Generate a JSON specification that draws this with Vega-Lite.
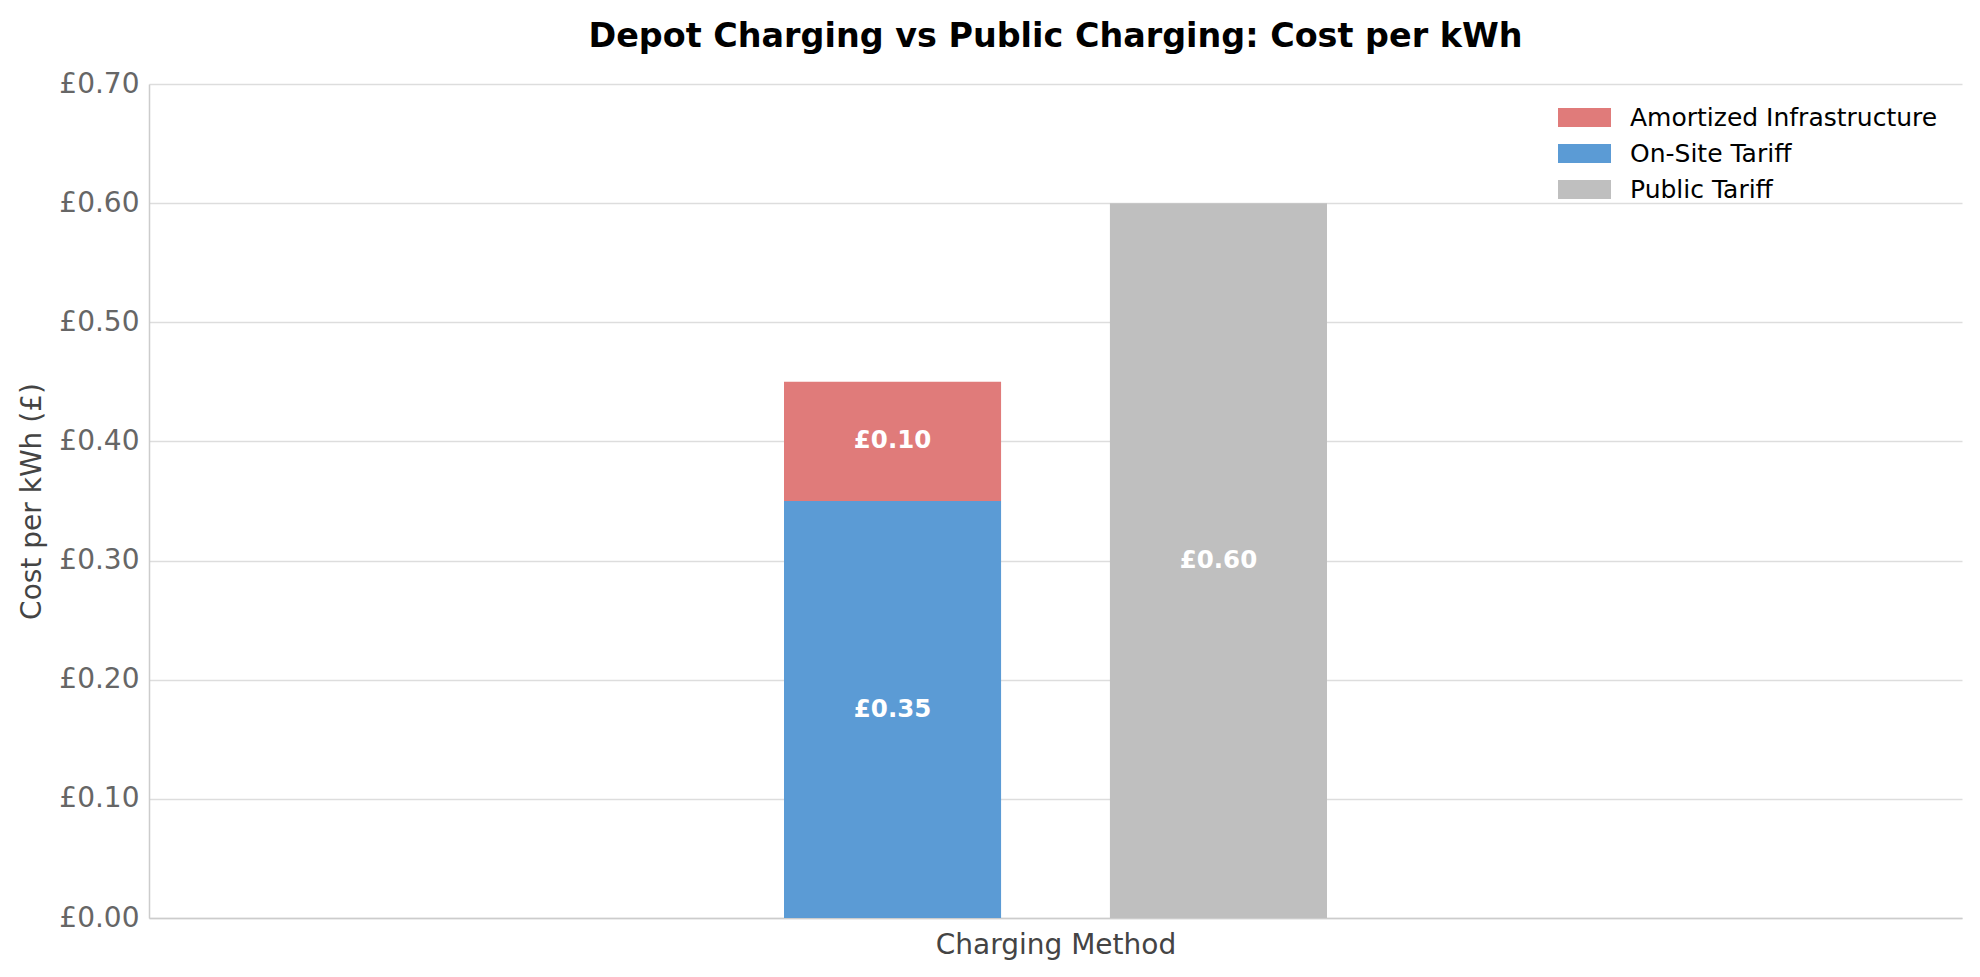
{
  "$schema": "https://vega.github.io/schema/vega-lite/v6.json",
  "width": 1813,
  "height": 834,
  "autosize": {"type": "none"},
  "padding": {"left": 149, "top": 84, "right": 18, "bottom": 59},
  "background": "white",
  "title": {
    "text": "Depot Charging vs Public Charging: Cost per kWh",
    "font": "DejaVu Sans",
    "fontSize": 33.4,
    "fontWeight": "bold",
    "color": "black",
    "offset": 16
  },
  "config": {
    "font": "DejaVu Sans",
    "view": {"stroke": null},
    "axis": {
      "labelFont": "DejaVu Sans",
      "titleFont": "DejaVu Sans",
      "labelFontSize": 28,
      "titleFontSize": 28,
      "titleFontWeight": "normal",
      "labelColor": "#666666",
      "titleColor": "#444444",
      "domainColor": "#cccccc",
      "domainWidth": 1.5,
      "gridColor": "#dddddd",
      "gridWidth": 1.5,
      "ticks": false
    },
    "legend": {
      "labelFont": "DejaVu Sans",
      "labelFontSize": 25,
      "labelColor": "black",
      "labelLimit": 0
    }
  },
  "data": {
    "values": [
      {"method": "Depot Charging", "component": "On-Site Tariff", "cost": 0.35},
      {"method": "Depot Charging", "component": "Amortized Infrastructure", "cost": 0.10},
      {"method": "Public Charging", "component": "Public Tariff", "cost": 0.60}
    ]
  },
  "transform": [
    {
      "stack": "cost",
      "groupby": ["method"],
      "sort": [{"field": "component", "order": "descending"}],
      "as": ["y0", "y1"]
    },
    {"calculate": "(datum.y0 + datum.y1) / 2", "as": "mid"},
    {"calculate": "'£' + format(datum.cost, '.2f')", "as": "label"}
  ],
  "encoding": {
    "x": {
      "datum": "Charging Method",
      "type": "nominal",
      "scale": {"paddingInner": 0.1449, "paddingOuter": 1},
      "axis": {"labels": false, "title": "Charging Method", "titlePadding": 13, "grid": false}
    },
    "xOffset": {
      "field": "method",
      "type": "nominal",
      "scale": {"paddingInner": 0.334, "paddingOuter": 0}
    }
  },
  "layer": [
    {
      "mark": {"type": "bar"},
      "encoding": {
        "y": {
          "field": "y1",
          "type": "quantitative",
          "scale": {"domain": [0, 0.7]},
          "title": "Cost per kWh (£)",
          "axis": {
            "values": [0, 0.1, 0.2, 0.3, 0.4, 0.5, 0.6, 0.7],
            "labelExpr": "'£' + format(datum.value, '.2f')",
            "labelPadding": 10,
            "titlePadding": 12
          }
        },
        "y2": {"field": "y0"},
        "color": {
          "field": "component",
          "type": "nominal",
          "title": null,
          "scale": {
            "domain": ["Amortized Infrastructure", "On-Site Tariff", "Public Tariff"],
            "range": ["#e07b7a", "#5b9bd5", "#bfbfbf"]
          },
          "legend": {
            "orient": "none",
            "legendX": 1409,
            "legendY": 20,
            "symbolType": "M-2,-0.72H2V0.72H-2Z",
            "symbolSize": 702,
            "symbolOffset": 13,
            "symbolStrokeWidth": 0,
            "labelOffset": 32,
            "rowPadding": 9,
            "padding": 0
          }
        }
      }
    },
    {
      "mark": {
        "type": "text",
        "color": "white",
        "fontWeight": "bold",
        "fontSize": 24.5,
        "font": "DejaVu Sans",
        "baseline": "middle"
      },
      "encoding": {
        "y": {"field": "mid", "type": "quantitative"},
        "text": {"field": "label", "type": "nominal"}
      }
    }
  ]
}
